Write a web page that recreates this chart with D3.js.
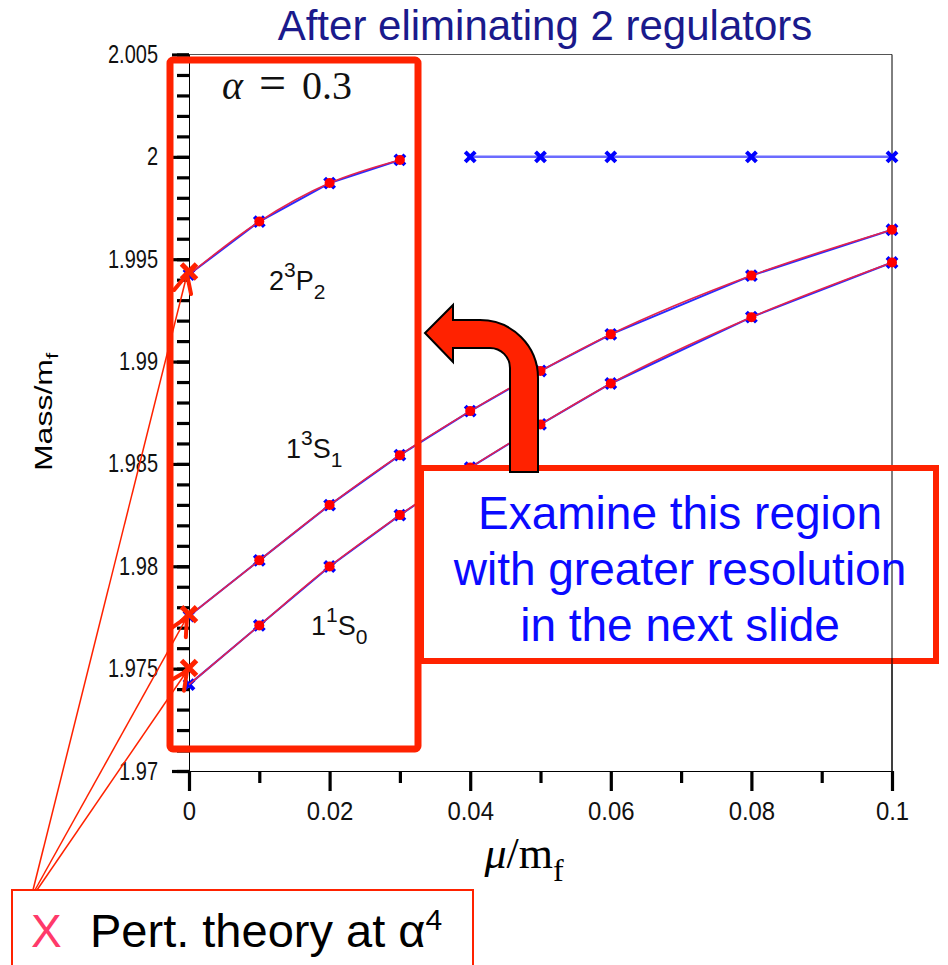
<!DOCTYPE html>
<html>
<head>
<meta charset="utf-8">
<script src="https://cdn.jsdelivr.net/npm/d3@7"></script>
<style>
  body { margin: 0; background: #fff; }
  svg { display: block; }
</style>
</head>
<body>
<svg id="chart"></svg>
<script>
const width = 948;
const height = 965;

// data
const muFull = [0, 0.01, 0.02, 0.03, 0.04, 0.05, 0.06, 0.08, 0.1];
const muP2 = [0, 0.01, 0.02, 0.03];
const massP2 = [1.99425, 1.99684, 1.99872, 1.99985];
const muThreshold = [0.04, 0.05, 0.06, 0.08, 0.1];
const massThreshold = [2.0, 2.0, 2.0, 2.0, 2.0];
const massS1 = [1.97757, 1.98029, 1.98299, 1.98543, 1.98758, 1.98954, 1.99133, 1.9942, 1.99644];
const massS0 = [1.97422, 1.97711, 1.97999, 1.98250, 1.98482, 1.98693, 1.98893, 1.99217, 1.99484];
const pertMass = [1.9944, 1.97766, 1.97503];
const xTicks = [0, 0.02, 0.04, 0.06, 0.08, 0.1];
const yTicks = [1.97, 1.975, 1.98, 1.985, 1.99, 1.995, 2, 2.005];

const svg = d3.select("#chart")
  .attr("width", width)
  .attr("height", height);

const x = d3.scaleLinear().domain([0, 0.1]).range([189, 892]);
const y = d3.scaleLinear().domain([1.97, 2.005]).range([771, 54.5]);

const RED = "#ff2200";
const FIT = "#e4234c";
const BLUE = "#0000ff";
const SANS = "Liberation Sans, Arial, sans-serif";
const SERIF = "Liberation Serif, Times New Roman, serif";

// title
svg.append("text")
  .attr("x", 545).attr("y", 40)
  .attr("text-anchor", "middle")
  .attr("font-family", SANS)
  .attr("font-size", 42)
  .attr("fill", "#1a1a8c")
  .text("After eliminating 2 regulators");

// frame
svg.append("line")
  .attr("x1", x(0)).attr("x2", x(0.1))
  .attr("y1", y(2.005)).attr("y2", y(2.005))
  .attr("stroke", "#555").attr("stroke-width", 1.2);
svg.append("line")
  .attr("x1", x(0.1)).attr("x2", x(0.1))
  .attr("y1", y(2.005)).attr("y2", y(1.97))
  .attr("stroke", "#000").attr("stroke-width", 1);

// axes
const yMinor = d3.range(0, 36).map(i => 1.97 + i * 0.001);
const xMinor = [0.01, 0.03, 0.05, 0.07, 0.09];

const yAxisG = svg.append("g").attr("transform", `translate(${x(0)},0)`);
yAxisG.append("g")
  .call(d3.axisLeft(y).tickValues(yMinor).tickSize(12).tickFormat(""));
yAxisG.append("g")
  .call(d3.axisLeft(y).tickValues(yTicks).tickSize(17)
    .tickFormat(d => d3.format("")(+d.toFixed(3))));
yAxisG.selectAll(".domain").attr("stroke", "#000").attr("stroke-width", 1);
yAxisG.selectAll(".tick line").attr("stroke", "#000").attr("stroke-width", 3.2);
// the original labels are tall and narrow
yAxisG.selectAll(".tick text")
  .attr("font-family", SANS)
  .attr("font-size", 25).attr("fill", "#111")
  .attr("x", -31 / 0.8)
  .attr("transform", "scale(0.8,1)");

const xAxisG = svg.append("g").attr("transform", `translate(0,${y(1.97)})`);
xAxisG.append("g")
  .call(d3.axisBottom(x).tickValues(xMinor).tickSize(12).tickFormat(""));
xAxisG.append("g")
  .call(d3.axisBottom(x).tickValues(xTicks).tickSize(20).tickPadding(11)
    .tickFormat(d => d3.format("")(+d.toFixed(2))));
xAxisG.selectAll(".domain").attr("stroke", "#000").attr("stroke-width", 1);
xAxisG.selectAll(".tick line").attr("stroke", "#000").attr("stroke-width", 3.2);
xAxisG.selectAll(".tick text")
  .attr("font-family", SANS)
  .attr("font-size", 26).attr("fill", "#111")
  .attr("transform", "scale(0.92,1)");

// axis titles
svg.append("text")
  .attr("transform", "translate(52,412) rotate(-90) scale(1,0.75)")
  .attr("text-anchor", "middle")
  .attr("font-family", SANS)
  .attr("font-size", 32)
  .call(t => {
    t.append("tspan").text("Mass/m");
    t.append("tspan").attr("font-size", 22).attr("dy", 8).text("f");
  });

svg.append("text")
  .attr("x", 524).attr("y", 868)
  .attr("text-anchor", "middle")
  .attr("font-family", SERIF)
  .attr("font-size", 44)
  .call(t => {
    t.append("tspan").attr("font-style", "italic").text("\u03bc");
    t.append("tspan").text("/m");
    t.append("tspan").attr("font-size", 32).attr("dy", 13).text("f");
  });

// curves
const line = d3.line().x(d => x(d[0])).y(d => y(d[1]));
const smooth = d3.line().x(d => x(d[0])).y(d => y(d[1])).curve(d3.curveMonotoneX);

const fitted = [
  d3.zip(muP2, massP2),
  d3.zip(muFull, massS1),
  d3.zip(muFull, massS0)
];
const threshold = d3.zip(muThreshold, massThreshold);

const plot = svg.append("g");

plot.selectAll("path.data")
  .data(fitted)
  .join("path")
    .attr("class", "data")
    .attr("d", line)
    .attr("fill", "none")
    .attr("stroke", "#2a2aff")
    .attr("stroke-width", 2);

plot.append("path")
  .attr("d", line(threshold))
  .attr("fill", "none")
  .attr("stroke", "#6b6bff")
  .attr("stroke-width", 2.5);

const xMark = s => `M${-s},${-s}L${s},${s}M${-s},${s}L${s},${-s}`;

plot.selectAll("path.bx")
  .data(fitted.flat().concat(threshold))
  .join("path")
    .attr("class", "bx")
    .attr("transform", d => `translate(${x(d[0])},${y(d[1])})`)
    .attr("d", xMark(5))
    .attr("stroke", BLUE)
    .attr("stroke-width", 4);

plot.selectAll("path.fit")
  .data(fitted)
  .join("path")
    .attr("class", "fit")
    .attr("d", smooth)
    .attr("fill", "none")
    .attr("stroke", FIT)
    .attr("stroke-width", 1.6);

plot.selectAll("circle.rd")
  .data(fitted.flat().filter(d => d[0] > 0))
  .join("circle")
    .attr("class", "rd")
    .attr("cx", d => x(d[0]))
    .attr("cy", d => y(d[1]))
    .attr("r", 5)
    .attr("fill", "#ff0000");

// perturbation theory markers
plot.selectAll("path.pert")
  .data(pertMass)
  .join("path")
    .attr("class", "pert")
    .attr("transform", d => `translate(${x(0)},${y(d)})`)
    .attr("d", xMark(7.5))
    .attr("stroke", RED)
    .attr("stroke-width", 5);

// state labels
const states = [
  { n: "2", s: "3", l: "P", j: "2", x: 269, y: 290 },
  { n: "1", s: "3", l: "S", j: "1", x: 286, y: 458 },
  { n: "1", s: "1", l: "S", j: "0", x: 311, y: 635 }
];
svg.selectAll("text.state")
  .data(states)
  .join("text")
    .attr("class", "state")
    .attr("x", d => d.x).attr("y", d => d.y)
    .attr("font-family", SANS)
    .attr("font-size", 27)
    .attr("fill", "#111")
    .each(function(d) {
      const t = d3.select(this);
      t.append("tspan").text(d.n);
      t.append("tspan").attr("font-size", 21).attr("dy", -13).text(d.s);
      t.append("tspan").attr("dy", 13).text(d.l);
      t.append("tspan").attr("font-size", 21).attr("dy", 9).text(d.j);
    });

// alpha label
const alphaG = svg.append("g")
  .attr("font-family", SERIF)
  .attr("font-size", 40)
  .attr("fill", "#111");
alphaG.append("text").attr("x", 222).attr("y", 99)
  .attr("font-style", "italic").text("\u03b1");
alphaG.append("text").attr("x", 259).attr("y", 99)
  .attr("font-size", 48).text("=");
alphaG.append("text").attr("x", 302).attr("y", 99).text("0.3");

// big highlight rectangle
svg.append("rect")
  .attr("x", 170).attr("y", 60)
  .attr("width", 248).attr("height", 689)
  .attr("rx", 3)
  .attr("fill", "none")
  .attr("stroke", RED)
  .attr("stroke-width", 7);

// pointer lines from legend to pert. theory markers
const starts = [[33, 890], [35, 890], [37, 890]];
const arrows = svg.append("g");
pertMass.forEach((m, i) => {
  const [sx, sy] = starts[i];
  const tx = x(0) - 2, ty = y(m) + 3;
  arrows.append("line")
    .attr("x1", sx).attr("y1", sy).attr("x2", tx).attr("y2", ty)
    .attr("stroke", RED).attr("stroke-width", 1.5);
  const ang = Math.atan2(sy - ty, sx - tx);
  [-0.45, 0.45].forEach(o => {
    arrows.append("line")
      .attr("x1", tx).attr("y1", ty)
      .attr("x2", tx + 20 * Math.cos(ang + o))
      .attr("y2", ty + 20 * Math.sin(ang + o))
      .attr("stroke", RED).attr("stroke-width", 4)
      .attr("stroke-linecap", "round");
  });
});

// "examine" box
svg.append("rect")
  .attr("x", 421).attr("y", 468)
  .attr("width", 515).attr("height", 193)
  .attr("fill", "#fff")
  .attr("stroke", RED)
  .attr("stroke-width", 6);
svg.append("line")
  .attr("x1", x(0.1)).attr("x2", x(0.1))
  .attr("y1", 471).attr("y2", 771)
  .attr("stroke", "#000").attr("stroke-width", 1);

svg.append("text")
  .attr("text-anchor", "middle")
  .attr("font-family", SANS)
  .attr("font-size", 46)
  .attr("fill", "#0a0aff")
  .selectAll("tspan")
  .data(["Examine this region", "with greater resolution", "in the next slide"])
  .join("tspan")
    .attr("x", 680)
    .attr("y", (d, i) => 529 + i * 56)
    .text(d => d);

// bent arrow
svg.append("path")
  .attr("d", "M538,472 L538,378 A58,58 0 0 0 480,320 L453,320 L453,305 L425,333 L453,362 L453,348 L490,348 A20,20 0 0 1 510,368 L510,472 Z")
  .attr("fill", RED)
  .attr("stroke", "#000")
  .attr("stroke-width", 2);

// legend box
svg.append("rect")
  .attr("x", 12).attr("y", 890)
  .attr("width", 461).attr("height", 90)
  .attr("fill", "none")
  .attr("stroke", RED)
  .attr("stroke-width", 2);
svg.append("text")
  .attr("x", 31).attr("y", 947)
  .attr("font-family", SANS)
  .attr("font-size", 46)
  .attr("fill", "#ff3a6a")
  .text("X");
svg.append("text")
  .attr("x", 90).attr("y", 947)
  .attr("font-family", SANS)
  .attr("font-size", 47)
  .attr("fill", "#000")
  .call(t => {
    t.append("tspan").text("Pert. theory at \u03b1");
    t.append("tspan").attr("font-size", 30).attr("dy", -17).text("4");
  });
</script>
</body>
</html>
